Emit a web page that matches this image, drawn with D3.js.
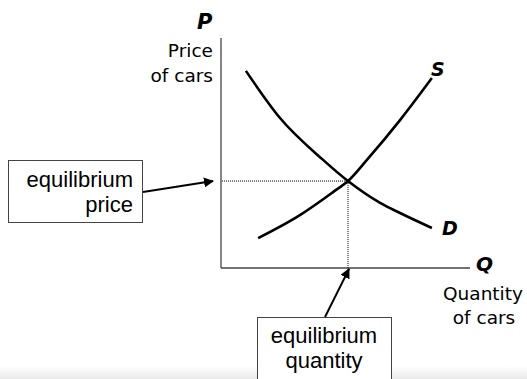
<!DOCTYPE html>
<html>
<head>
<meta charset="utf-8">
<script src="https://cdn.jsdelivr.net/npm/d3@7"></script>
<style>
  body { margin: 0; background: #fff; }
  svg { display: block; }
</style>
</head>
<body>
<script>
// curve points (quantity, price on a 0-100 scale)
var supplyQ = [14.9, 31.7, 45.0, 51.0, 58.6, 71.9, 84.7];
var supplyP = [13.0, 23.0, 33.0, 37.8, 47.0, 64.3, 82.6];
var demandQ = [10.0, 23.7, 41.0, 51.0, 63.9, 71.9, 84.7];
var demandP = [85.7, 65.2, 47.0, 37.8, 28.3, 23.9, 17.4];
var equilibrium = [51.0, 37.8];

var width = 527, height = 379;

var svg = d3.select("body")
  .append("svg")
    .attr("width", width)
    .attr("height", height);

// faint grey band at the bottom
var defs = svg.append("defs");
var grad = defs.append("linearGradient")
    .attr("id", "band")
    .attr("x1", 0).attr("y1", 0).attr("x2", 0).attr("y2", 1);
grad.append("stop").attr("offset", "0%").attr("stop-color", "#ffffff");
grad.append("stop").attr("offset", "100%").attr("stop-color", "#e9e9e9");
svg.append("rect")
    .attr("x", 0).attr("y", 366)
    .attr("width", width).attr("height", 13)
    .attr("fill", "url(#band)");

defs.append("marker")
    .attr("id", "arrow")
    .attr("viewBox", "0 0 10 10")
    .attr("refX", 9).attr("refY", 5)
    .attr("markerWidth", 5).attr("markerHeight", 5)
    .attr("markerUnits", "strokeWidth")
    .attr("orient", "auto")
  .append("path")
    .attr("d", "M0,0 L10,5 L0,10 Z")
    .attr("fill", "#000");

var x = d3.scaleLinear().domain([0, 100]).range([221, 470]);
var y = d3.scaleLinear().domain([0, 100]).range([268, 38]);

// axes (plain lines, no ticks)
svg.append("line")
    .attr("x1", x(0)).attr("y1", y(0))
    .attr("x2", x(0)).attr("y2", y(100))
    .attr("stroke", "#444").attr("stroke-width", 1.3);
svg.append("line")
    .attr("x1", x(0)).attr("y1", y(0))
    .attr("x2", x(100)).attr("y2", y(0))
    .attr("stroke", "#444").attr("stroke-width", 1.3);

// dotted guides to the equilibrium
svg.append("line")
    .attr("x1", x(0) + 1).attr("y1", y(equilibrium[1]))
    .attr("x2", x(equilibrium[0])).attr("y2", y(equilibrium[1]))
    .attr("stroke", "#000").attr("stroke-width", 1)
    .attr("stroke-dasharray", "1,1");
svg.append("line")
    .attr("x1", x(equilibrium[0])).attr("y1", y(equilibrium[1]))
    .attr("x2", x(equilibrium[0])).attr("y2", y(0))
    .attr("stroke", "#000").attr("stroke-width", 1)
    .attr("stroke-dasharray", "1,1");

// supply and demand curves
var line = d3.line()
    .x(function(d) { return x(d[0]); })
    .y(function(d) { return y(d[1]); })
    .curve(d3.curveMonotoneX);

svg.append("path")
    .datum(d3.zip(supplyQ, supplyP))
    .attr("d", line)
    .attr("fill", "none")
    .attr("stroke", "#000")
    .attr("stroke-width", 2.6);
svg.append("path")
    .datum(d3.zip(demandQ, demandP))
    .attr("d", line)
    .attr("fill", "none")
    .attr("stroke", "#000")
    .attr("stroke-width", 2.6);

// axis and curve labels
var labelFont = "'DejaVu Sans', Verdana, sans-serif";
function letter(t, px, py, size, weight) {
  svg.append("text")
    .attr("x", px).attr("y", py)
    .attr("font-family", labelFont)
    .attr("font-size", size)
    .attr("font-style", "italic")
    .attr("font-weight", weight)
    .text(t);
}
letter("P", 197, 29, 21, "bold");
letter("S", 431, 76, 19, "bold");
letter("D", 442, 235, 19, "bold");
letter("Q", 476, 271, 20, "bold");

svg.append("text")
    .attr("x", 213).attr("y", 57)
    .attr("text-anchor", "end")
    .attr("font-family", labelFont).attr("font-size", 18.5)
    .text("Price");
svg.append("text")
    .attr("x", 213).attr("y", 82)
    .attr("text-anchor", "end")
    .attr("font-family", labelFont).attr("font-size", 18.5)
    .text("of cars");
svg.append("text")
    .attr("x", 483).attr("y", 300)
    .attr("text-anchor", "middle")
    .attr("font-family", labelFont).attr("font-size", 18.5)
    .text("Quantity");
svg.append("text")
    .attr("x", 484).attr("y", 324)
    .attr("text-anchor", "middle")
    .attr("font-family", labelFont).attr("font-size", 18.5)
    .text("of cars");

// callout boxes
var boxFont = "'Liberation Sans', Arial, sans-serif";
svg.append("rect")
    .attr("x", 8.5).attr("y", 160.5)
    .attr("width", 134).attr("height", 62)
    .attr("fill", "#fff").attr("stroke", "#444").attr("stroke-width", 1);
svg.append("text")
    .attr("x", 133).attr("y", 187)
    .attr("text-anchor", "end")
    .attr("font-family", boxFont).attr("font-size", 22)
    .text("equilibrium");
svg.append("text")
    .attr("x", 133).attr("y", 212)
    .attr("text-anchor", "end")
    .attr("font-family", boxFont).attr("font-size", 22)
    .text("price");

svg.append("rect")
    .attr("x", 257.5).attr("y", 317.5)
    .attr("width", 134).attr("height", 70)
    .attr("fill", "#fff").attr("stroke", "#444").attr("stroke-width", 1);
svg.append("text")
    .attr("x", 324).attr("y", 343)
    .attr("text-anchor", "middle")
    .attr("font-family", boxFont).attr("font-size", 22)
    .text("equilibrium");
svg.append("text")
    .attr("x", 324).attr("y", 368)
    .attr("text-anchor", "middle")
    .attr("font-family", boxFont).attr("font-size", 22)
    .text("quantity");

// arrows from the boxes to the axes
svg.append("line")
    .attr("x1", 143).attr("y1", 192)
    .attr("x2", x(0) - 8).attr("y2", y(equilibrium[1]))
    .attr("stroke", "#000").attr("stroke-width", 2)
    .attr("marker-end", "url(#arrow)");
svg.append("line")
    .attr("x1", 325).attr("y1", 317)
    .attr("x2", x(equilibrium[0]) + 1).attr("y2", y(0) + 1)
    .attr("stroke", "#000").attr("stroke-width", 2)
    .attr("marker-end", "url(#arrow)");
</script>
</body>
</html>
